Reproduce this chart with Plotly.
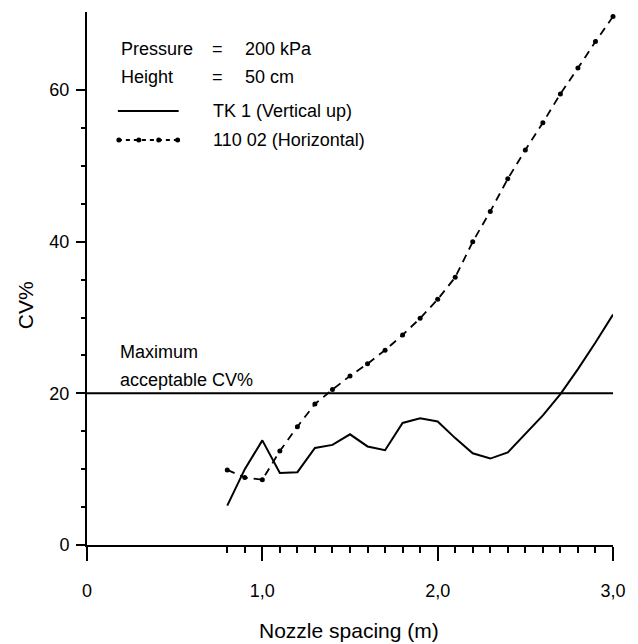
import plotly.graph_objects as go

# ---- data ----
spacing = [0.8, 0.9, 1.0, 1.1, 1.2, 1.3, 1.4, 1.5, 1.6, 1.7, 1.8, 1.9,
           2.0, 2.1, 2.2, 2.3, 2.4, 2.5, 2.6, 2.7, 2.8, 2.9, 3.0]
cv_tk1 = [5.2, 10.0, 13.8, 9.5, 9.6, 12.8, 13.2, 14.6, 13.0, 12.5, 16.1, 16.7,
          16.3, 14.1, 12.1, 11.4, 12.2, 14.6, 17.1, 19.9, 23.2, 26.7, 30.4]
cv_11002 = [9.9, 8.9, 8.6, 12.4, 15.6, 18.6, 20.5, 22.3, 23.9, 25.7, 27.7, 29.9,
            32.4, 35.3, 40.0, 44.0, 48.3, 52.1, 55.7, 59.5, 62.9, 66.4, 69.7]
max_cv = 20
x_tickvals = [0, 1, 2, 3]
x_ticktext = ["0", "1,0", "2,0", "3,0"]
x_minor = [0.8, 0.9, 1.1, 1.2, 1.3, 1.4, 1.5, 1.6, 1.7, 1.8, 1.9,
           2.1, 2.2, 2.3, 2.4, 2.5, 2.6, 2.7, 2.8, 2.9]
y_tickvals = [0, 20, 40, 60]
y_minor = [5, 10, 15, 25, 30, 35, 45, 50, 55]
x_range = [0, 3]
y_range = [0, 70.3]

W, H = 638, 644
L, R, T, B = 87, 23, 12, 99
PW, PH = W - L - R, H - T - B
FONT = "Liberation Sans, Arial, Helvetica, sans-serif"


def px(x):
    return (x - L) / PW


def py(y):
    return (H - B - y) / PH


fig = go.Figure()
fig.add_trace(go.Scatter(x=spacing, y=cv_tk1, mode="lines",
                         line=dict(color="black", width=2),
                         name="TK 1 (Vertical up)", showlegend=False,
                         cliponaxis=False))
fig.add_trace(go.Scatter(x=spacing, y=cv_11002, mode="lines+markers",
                         line=dict(color="black", width=1.8, dash="8px,6px"),
                         marker=dict(color="black", size=5),
                         name="110 02 (Horizontal)", showlegend=False,
                         cliponaxis=False))

shapes = [
    dict(type="line", xref="x", yref="y", x0=x_range[0], x1=x_range[1],
         y0=max_cv, y1=max_cv, line=dict(color="black", width=2)),
    # legend keys
    dict(type="line", xref="paper", yref="paper", x0=px(118), x1=px(179),
         y0=py(111), y1=py(111), line=dict(color="black", width=2)),
    dict(type="line", xref="paper", yref="paper", x0=px(118), x1=px(179),
         y0=py(140), y1=py(140), line=dict(color="black", width=1.8, dash="4px,4px")),
]
for dx in [119, 139, 159, 178]:
    shapes.append(dict(type="circle", xref="paper", yref="paper",
                       xsizemode="pixel", ysizemode="pixel",
                       xanchor=px(dx), yanchor=py(140),
                       x0=-2.5, x1=2.5, y0=-2.5, y1=2.5,
                       fillcolor="black", line=dict(width=0)))

ann = []


def txt(x, y, s, size=18, xanchor="left", **kw):
    ann.append(dict(xref="paper", yref="paper", x=px(x), y=py(y), text=s,
                    showarrow=False, xanchor=xanchor, yanchor="middle",
                    font=dict(family=FONT, size=size, color="black"), **kw))


txt(119, 49, "Pressure")
txt(218, 49, "=", xanchor="center")
txt(244, 49, "200 kPa")
txt(119, 77, "Height")
txt(218, 77, "=", xanchor="center")
txt(244, 77, "50 cm")
txt(211, 111, "TK 1 (Vertical up)")
txt(211, 140, "110 02 (Horizontal)")
txt(118, 352, "Maximum")
txt(118, 380, "acceptable CV%")
txt(350, 630, "Nozzle spacing (m)", size=21, xanchor="center")
txt(25, 305, "CV%", size=21, xanchor="center", textangle=-90)

fig.update_layout(
    width=W, height=H,
    margin=dict(l=L, r=R, t=T, b=B, pad=0),
    paper_bgcolor="white", plot_bgcolor="white",
    shapes=shapes, annotations=ann,
    font=dict(family=FONT, size=18, color="black"),
    xaxis=dict(range=x_range, showgrid=False, zeroline=False,
               showline=True, linecolor="black", linewidth=2,
               tickmode="array", tickvals=x_tickvals, ticktext=x_ticktext,
               ticks="outside", ticklen=14, tickwidth=2, tickcolor="black",
               ticklabelstandoff=14,
               tickfont=dict(family=FONT, size=18, color="black"),
               minor=dict(tickmode="array", tickvals=x_minor, ticks="outside",
                          ticklen=6, tickwidth=1.5, tickcolor="black",
                          showgrid=False)),
    yaxis=dict(range=y_range, showgrid=False, zeroline=False,
               showline=True, linecolor="black", linewidth=2,
               tickmode="array", tickvals=y_tickvals,
               ticks="outside", ticklen=9, tickwidth=2, tickcolor="black",
               ticklabelstandoff=3,
               tickfont=dict(family=FONT, size=18, color="black"),
               minor=dict(tickmode="array", tickvals=y_minor, ticks="outside",
                          ticklen=4, tickwidth=1.5, tickcolor="black",
                          showgrid=False)),
)

fig.write_html("out.html")
